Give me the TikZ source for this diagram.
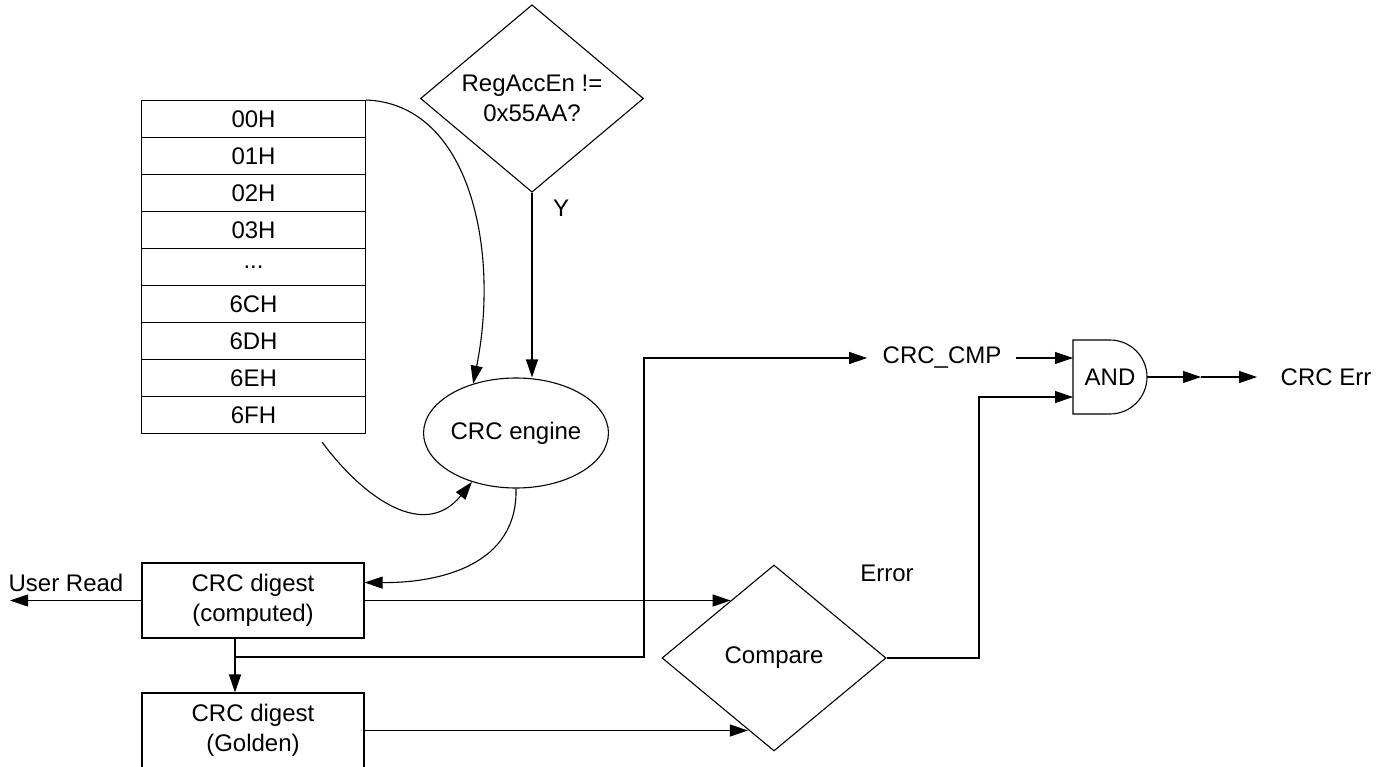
\documentclass[tikz,border=0pt]{standalone}
\usepackage{fontspec}
\setmainfont{Liberation Sans}
\usetikzlibrary{arrows.meta,shapes.geometric,calc}
\newcommand\regdots{...}
\begin{document}
\begin{tikzpicture}[x=1pt,y=-1pt,line width=1.1pt,
  every node/.style={font=\fontsize{24}{30}\selectfont},
  arr/.style={-{Triangle[length=18pt,width=12pt]}},
  reg/.style={draw,minimum width=224pt,minimum height=37pt,inner sep=0pt,anchor=north west},
  box/.style={draw,minimum width=222pt,minimum height=75pt,inner sep=0pt,align=center},
  dia/.style={draw,diamond,inner sep=0pt,align=center},
  lbl/.style={inner sep=0pt}]
\useasboundingbox (0,0) rectangle (1388,767);

% register table
\foreach \t [count=\i from 0] in {00H,01H,02H,03H,\regdots,6CH,6DH,6EH,6FH}{
  \node[reg] (r\i) at (141,{100+37*\i}) {\t};
}

% decision diamond
\node[dia,minimum width=223pt,minimum height=187pt] (rae) at (532,98.5) {RegAccEn !=\\0x55AA?};
\node[lbl] (ylbl) at (561,208) {Y};

% CRC engine
\node[draw,ellipse,minimum width=182pt,minimum height=110pt,inner sep=0pt] (eng) at (516,433) {CRC engine};

% digests
\node[box] (comp) at (253,600.5) {CRC digest\\(computed)};
\node[box] (gold) at (253,730.5) {CRC digest\\(Golden)};

% compare
\node[dia,minimum width=224pt,minimum height=186pt] (cmpd) at (774,658) {Compare};
\node[lbl] (err) at (887,573) {Error};

% labels
\node[lbl] (ur) at (66,583) {User Read};
\node[lbl] (crccmp) at (942,358) {CRC\_CMP};
\node[lbl] (crcerr) at (1326,377) {CRC Err};

% AND gate
\draw (1073,340) -- (1110,340) .. controls (1130.4,340) and (1147,356.6) .. (1147,377)
  .. controls (1147,397.4) and (1130.4,414) .. (1110,414) -- (1073,414) -- cycle;
\node[lbl] (andg) at (1110,377) {AND};
\coordinate (andin1) at (1073,358);
\coordinate (andin2) at (1073,397);
\coordinate (andout) at (1147,377);
\coordinate (mid) at (1201,377);

% coordinates
\coordinate (c2s) at (322,442);
\coordinate (urend) at (10,600.5);
\coordinate (dn) at (235,638);
\coordinate (j1) at (235,657);
\coordinate (up) at (644,657);
\coordinate (upt) at (644,358);
\coordinate (ej) at (979,658);
\coordinate (ejt) at (979,397);

% connectors
\draw[arr] (r0.north east) .. controls (470,104) and (500,250) .. (eng.131);
\draw[arr] (rae.south) -- (rae.south |- eng.north);
\draw[arr] (c2s) .. controls (365,500) and (425,540) .. (eng.228);
\draw[arr] (eng.south) .. controls (518,565) and (440,583) .. ($(comp.east)+(0,-18)$);
\draw[arr] (comp.west) -- (urend);
\draw[arr] (dn) -- (dn |- gold.north);
\draw[arr] (j1) -- (up) -- (upt) -- ([xshift=-15pt]crccmp.west);
\draw[arr] ([xshift=14pt]crccmp.east) -- (andin1);
\draw[arr] (comp.east) -- (comp.east -| cmpd.127);
\draw[arr] (gold.east) -- (gold.east -| cmpd.250);
\draw[arr] (cmpd.east) -- (ej) -- (ejt) -- (andin2);
\draw[arr] (andout) -- (mid);
\draw[arr] (mid) -- ([xshift=-23pt]crcerr.west);
\end{tikzpicture}
\end{document}
